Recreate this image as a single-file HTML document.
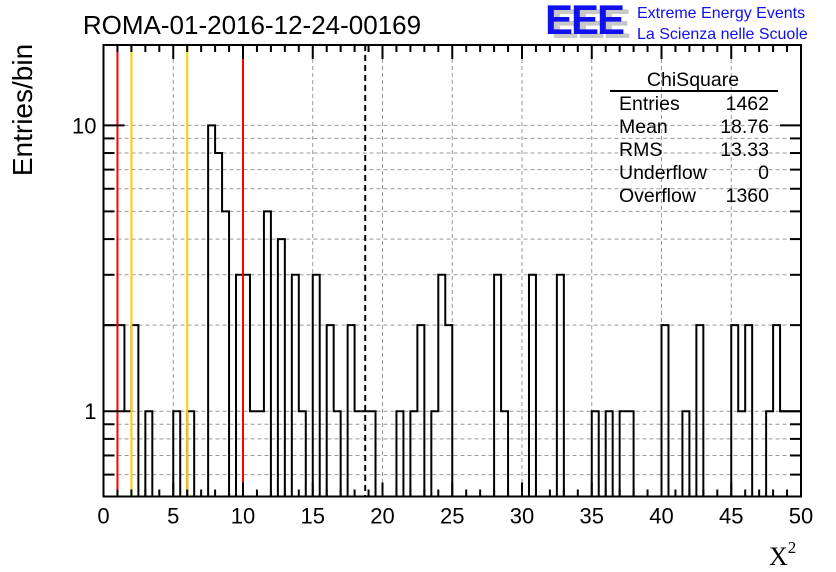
<!DOCTYPE html>
<html><head><meta charset="utf-8"><style>
body{margin:0;background:#fff;}
svg{display:block;font-family:"Liberation Sans",sans-serif;}
</style></head><body>
<svg id="chart" width="836" height="572" viewBox="0 0 836 572" xmlns="http://www.w3.org/2000/svg">
<rect width="836" height="572" fill="#fff"/>
<text x="252" y="34" font-size="26" text-anchor="middle" fill="#000">ROMA-01-2016-12-24-00169</text>
<g>
<text x="551" y="38" font-size="42" font-weight="bold" fill="#c8c8c8" letter-spacing="-2">EEE</text>
<text x="545" y="34" font-size="42" font-weight="bold" fill="#1010ee" letter-spacing="-2">EEE</text>
<text x="637" y="18" font-size="16" fill="#1010ee">Extreme Energy Events</text>
<text x="637" y="39" font-size="16" fill="#1010ee">La Scienza nelle Scuole</text>
</g>
<g id="grid"></g>
<g id="marks"></g>
<g id="axes"></g>
<g font-size="19.5" fill="#000">
<text x="693" y="86" text-anchor="middle">ChiSquare</text>
<line x1="610" y1="91" x2="778" y2="91" stroke="#000" stroke-width="2"/>
<text x="619" y="110">Entries</text><text x="769" y="110" text-anchor="end">1462</text>
<text x="619" y="133">Mean</text><text x="769" y="133" text-anchor="end">18.76</text>
<text x="619" y="156">RMS</text><text x="769" y="156" text-anchor="end">13.33</text>
<text x="619" y="179">Underflow</text><text x="769" y="179" text-anchor="end">0</text>
<text x="619" y="202">Overflow</text><text x="769" y="202" text-anchor="end">1360</text>
</g>
<text transform="translate(32,110) rotate(-90)" font-size="28" text-anchor="middle">Entries/bin</text>
<text x="769" y="565" font-size="26" font-family="Liberation Serif,serif">X<tspan font-size="17" dy="-12">2</tspan></text>
</svg>
<script>
const counts = [2,2,2,1,2,0,1,0,0,0,1,0,1,0,0,10,8,5,0,3,3,1,1,5,0,4,0,3,1,0,3,0,2,1,0,2,1,1,1,0,
0,0,1,0,1,2,0,1,3,2,0,0,0,0,0,0,3,1,0,0,0,3,0,0,0,3,0,0,0,0,1,0,1,0,1,1,0,0,0,0,
2,0,0,1,0,2,0,0,0,0,2,1,2,0,0,1,2,1,1,1];
const xTicks = [0,5,10,15,20,25,30,35,40,45,50];
const yMajor = [1,10];
const yLabels = ["1","10"];
const yMinor = [0.6,0.7,0.8,0.9,2,3,4,5,6,7,8,9];
const redLines = [1,10];
const orangeLines = [2,6];
const meanValue = [18.76];
const xMin=0,xMax=50,yMin=0.503,yMax=19.1;
const L=103.5,R=801,T=45,B=496.5;
const X=v=>L+(v-xMin)/(xMax-xMin)*(R-L);
const Y=v=>B-(Math.log10(v)-Math.log10(yMin))/(Math.log10(yMax)-Math.log10(yMin))*(B-T);
const NS="http://www.w3.org/2000/svg";
function mk(tag,attrs,parent){const e=document.createElementNS(NS,tag);for(const k in attrs)e.setAttribute(k,attrs[k]);parent.appendChild(e);return e;}
const grid=document.getElementById('grid'),marks=document.getElementById('marks'),axes=document.getElementById('axes');
xTicks.slice(1,-1).forEach(v=>{const l=mk('line',{x1:X(v),x2:X(v),y1:T,y2:B,stroke:'#999','stroke-dasharray':'4,3','stroke-width':1},grid);

});
yMinor.concat(yMajor).forEach(v=>{const l=mk('line',{x1:L,x2:R,y1:Y(v),y2:Y(v),stroke:'#999','stroke-dasharray':'4,3','stroke-width':1},grid);

});
const bw=(xMax-xMin)/counts.length;
let d=`M${X(0)},${B}`;
counts.forEach((c,i)=>{const y=c>0?Y(c):B;d+=` L${X(i*bw)},${y} L${X((i+1)*bw)},${y}`;});
d+=` L${X(xMax)},${B}`;
const h=mk('path',{d:d,fill:'none',stroke:'#000','stroke-width':2},marks);


redLines.forEach(v=>{const l=mk('line',{x1:X(v),x2:X(v),y1:T,y2:B,stroke:'#f00','stroke-width':2},marks);

});
orangeLines.forEach(v=>{const l=mk('line',{x1:X(v),x2:X(v),y1:T,y2:B,stroke:'#fc0','stroke-width':2},marks);

});
meanValue.forEach(v=>{const l=mk('line',{x1:X(v),x2:X(v),y1:T,y2:B,stroke:'#000','stroke-width':2,'stroke-dasharray':'6,4'},marks);

});
const f=mk('rect',{x:L,y:T,width:R-L,height:B-T,fill:'none',stroke:'#000','stroke-width':2},axes);


for(let v=xMin;v<=xMax;v+=1){const maj=v%5===0;const len=maj?14:7;
mk('line',{x1:X(v),x2:X(v),y1:B,y2:B-len,stroke:'#000','stroke-width':2},axes);
mk('line',{x1:X(v),x2:X(v),y1:T,y2:T+len,stroke:'#000','stroke-width':2},axes);}
xTicks.forEach(v=>{const t=mk('text',{x:X(v),y:B+27,'font-size':22,'text-anchor':'middle'},axes);t.textContent=v;

});
yMinor.forEach(v=>{mk('line',{x1:L,x2:L+11,y1:Y(v),y2:Y(v),stroke:'#000','stroke-width':2},axes);
mk('line',{x1:R,x2:R-11,y1:Y(v),y2:Y(v),stroke:'#000','stroke-width':2},axes);});
yMajor.forEach((v,i)=>{mk('line',{x1:L,x2:L+21,y1:Y(v),y2:Y(v),stroke:'#000','stroke-width':2},axes);
mk('line',{x1:R,x2:R-21,y1:Y(v),y2:Y(v),stroke:'#000','stroke-width':2},axes);
const t=mk('text',{x:L-7,y:Y(v)+8,'font-size':22,'text-anchor':'end'},axes);t.textContent=yLabels[i];

});
</script>
</body></html>
